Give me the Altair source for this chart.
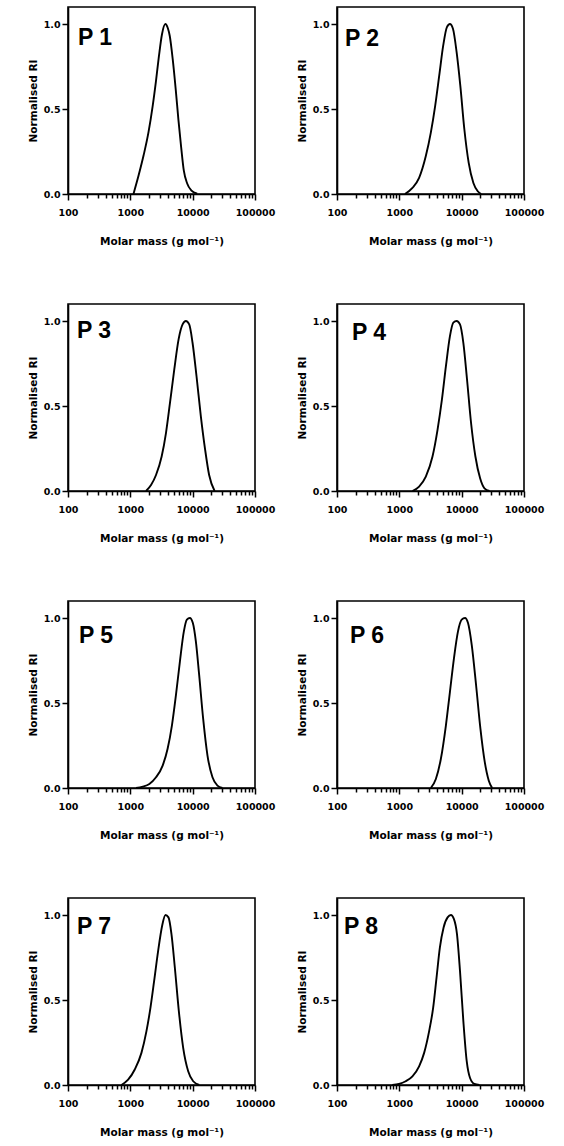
import altair as alt
import pandas as pd

PANELS = ["P 1", "P 2", "P 3", "P 4", "P 5", "P 6", "P 7", "P 8"]

M1 = [1122, 1352, 1629, 1960, 2275, 2575, 2878, 3220, 3650, 4000, 4285, 4790, 5355, 5915, 6535, 7215, 8165, 9475, 11830]
R1 = [0, 0.107, 0.226, 0.365, 0.514, 0.663, 0.812, 0.940, 1.0, 0.975, 0.931, 0.792, 0.613, 0.435, 0.276, 0.137, 0.062, 0.022, 0.002]

M2 = [1233, 1622, 2076, 2660, 3200, 3758, 4363, 5060, 5800, 6480, 7250, 8300, 9510, 11040, 12970, 15420, 18110, 20500]
R2 = [0, 0.036, 0.095, 0.223, 0.361, 0.519, 0.696, 0.874, 0.982, 1.0, 0.972, 0.834, 0.637, 0.381, 0.183, 0.065, 0.016, 0]

M3 = [1786, 2148, 2583, 3180, 3730, 4325, 5070, 5945, 6890, 7785, 8805, 9955, 11530, 13530, 15860, 18370, 22500]
R3 = [0, 0.035, 0.094, 0.203, 0.341, 0.518, 0.715, 0.892, 0.980, 1.0, 0.98, 0.872, 0.675, 0.439, 0.242, 0.094, 0]

M4 = [1622, 2076, 2660, 3405, 4100, 4820, 5590, 6485, 7340, 8300, 9400, 10640, 12190, 14150, 16610, 19770, 23220, 27950]
R4 = [0, 0.026, 0.085, 0.203, 0.360, 0.537, 0.734, 0.911, 0.990, 1.0, 0.980, 0.872, 0.656, 0.400, 0.203, 0.075, 0.016, 0]

M5 = [1236, 1580, 2020, 2583, 3300, 3963, 4652, 5390, 6240, 7225, 8075, 9020, 10070, 11250, 12710, 14730, 17290, 20790, 24970, 30000]
R5 = [0, 0.008, 0.024, 0.063, 0.132, 0.231, 0.369, 0.546, 0.744, 0.921, 0.990, 1.0, 0.970, 0.862, 0.665, 0.408, 0.191, 0.063, 0.014, 0]

M6 = [3200, 3855, 4640, 5590, 6485, 7520, 8730, 10000, 11320, 12650, 14500, 17020, 19990, 23490, 27240, 30830]
R6 = [0, 0.053, 0.172, 0.369, 0.566, 0.763, 0.921, 0.990, 1.0, 0.970, 0.842, 0.606, 0.349, 0.152, 0.043, 0]

M7 = [720, 921, 1178, 1507, 1814, 2104, 2410, 2793, 3238, 3662, 4090, 4570, 5175, 6000, 7045, 8475, 10200, 12740]
R7 = [0, 0.031, 0.091, 0.189, 0.317, 0.455, 0.612, 0.789, 0.937, 1.0, 0.986, 0.888, 0.691, 0.435, 0.219, 0.081, 0.022, 0]

M8 = [771, 988, 1265, 1622, 2076, 2500, 3008, 3490, 3953, 4475, 5130, 5945, 6730, 7520, 8410, 9400, 10640, 12050, 13630, 16000, 19270]
R8 = [0, 0.006, 0.022, 0.051, 0.110, 0.189, 0.317, 0.455, 0.632, 0.809, 0.927, 0.986, 1.0, 0.976, 0.888, 0.671, 0.376, 0.140, 0.041, 0.006, 0]

MASSES = [M1, M2, M3, M4, M5, M6, M7, M8]
RIS = [R1, R2, R3, R4, R5, R6, R7, R8]

X_MAJOR = [100, 1000, 10000, 100000]
X_TICKS = [100, 200, 300, 400, 500, 600, 700, 800, 900,
           1000, 2000, 3000, 4000, 5000, 6000, 7000, 8000, 9000,
           10000, 20000, 30000, 40000, 50000, 60000, 70000, 80000, 90000,
           100000]
Y_TICKS = [0.0, 0.5, 1.0]

X_TITLE = "Molar mass (g mol\u207b\u00b9)"
Y_TITLE = "Normalised RI"

# label offsets inside each panel (px from plot top-left)
LX = [10, 8, 9, 15, 11, 13, 9, 7]
LY = [38, 39, 34, 36, 42, 42, 36, 36]

FONT = "DejaVu Sans"
major_test = "indexof([" + ",".join(str(v) for v in X_MAJOR) + "], datum.value) >= 0"

W, H = 187, 187


def panel(i):
    df = pd.DataFrame({"M": MASSES[i], "RI": RIS[i]})
    line = alt.Chart(df).mark_line(
        color="black", strokeWidth=1.9, interpolate="monotone"
    ).encode(
        x=alt.X(
            "M:Q",
            title=X_TITLE,
            scale=alt.Scale(type="log", domain=[100, 100000], nice=False),
            axis=alt.Axis(
                values=X_TICKS,
                format="d",
                labelExpr=major_test + " ? datum.label : ''",
                tickSize={"condition": {"test": major_test, "value": 6}, "value": 4},
                labelPadding=7,
                titlePadding=20,
                labelFlush=False,
                labelOverlap=False,
            ),
        ),
        y=alt.Y(
            "RI:Q",
            title=Y_TITLE,
            scale=alt.Scale(domain=[0, 1.1], nice=False),
            axis=alt.Axis(
                values=Y_TICKS,
                format=".1f",
                tickSize=6,
                labelPadding=2,
                titlePadding=5,
                labelFlush=False,
            ),
        ),
    )
    lab = alt.Chart(pd.DataFrame({"t": [PANELS[i]]})).mark_text(
        align="left", baseline="alphabetic", font="Liberation Sans",
        fontWeight="bold", fontSize=23, color="black"
    ).encode(
        text="t:N",
        x=alt.value(LX[i]),
        y=alt.value(LY[i]),
    )
    return alt.layer(line, lab).properties(width=W, height=H)


chart = alt.concat(
    *[panel(i) for i in range(8)],
    columns=2,
    spacing={"row": 110, "column": 82},
    bounds="flush",
).properties(
    padding={"left": 27, "top": 6, "right": 0, "bottom": 0},
    background="white",
).configure_view(
    stroke="black", strokeWidth=1.6
).configure_axis(
    grid=False,
    domainColor="black",
    domainWidth=1.6,
    tickColor="black",
    tickWidth=1.5,
    labelColor="black",
    labelFont=FONT,
    labelFontWeight="bold",
    labelFontSize=9.5,
    titleColor="black",
    titleFont=FONT,
    titleFontWeight="bold",
    titleFontSize=10.5,
)

chart.save("out.html", embed_options={"renderer": "svg", "actions": False})
